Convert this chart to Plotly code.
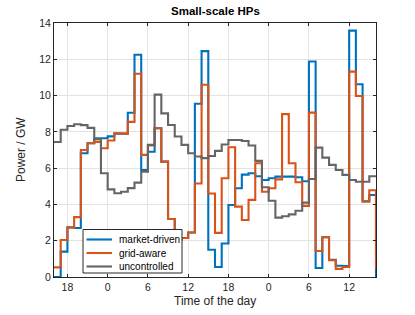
import numpy as np
import plotly.graph_objects as go

# ---- data (hourly values, GW); last value = level at the right edge ----
start_hour = 16
tick_hours = [18, 24, 30, 36, 42, 48, 54, 60]
tick_labels = ["18", "0", "6", "12", "18", "0", "6", "12"]

market_driven = [0.0, 1.4, 2.74, 2.7, 6.82, 7.37, 7.65, 7.65, 7.75, 7.9, 7.9, 9.05,
                 12.25, 5.9, 6.9, 8.2, 6.36, 3.2, 2.05, 2.15, 2.45, 9.55, 12.45, 1.5,
                 0.55, 1.85, 3.97, 4.89, 5.64, 5.72, 5.55, 5.35, 5.44, 5.53, 5.53, 5.53,
                 5.5, 5.28, 11.88, 0.5, 2.19, 0.95, 0.62, 0.6, 13.58, 10.62, 4.17, 4.52,
                 0.0]
grid_aware = [0.53, 2.04, 2.72, 3.3, 7.0, 7.37, 7.45, 7.1, 7.52, 7.92, 7.9, 8.55,
              11.2, 6.73, 7.25, 8.2, 6.36, 3.2, 2.05, 2.15, 2.45, 5.15, 10.6, 4.6,
              2.43, 5.44, 7.15, 3.88, 3.14, 4.25, 6.27, 4.7, 4.89, 5.38, 8.98, 6.27,
              5.22, 3.92, 9.06, 1.43, 2.19, 0.92, 0.45, 0.55, 11.32, 9.98, 4.17, 4.78,
              0.45]
uncontrolled = [7.44, 8.12, 8.32, 8.42, 8.37, 8.22, 7.6, 5.72, 4.83, 4.62, 4.7, 4.9,
                5.2, 5.8, 7.28, 10.05, 9.02, 8.38, 7.74, 7.28, 6.82, 6.64, 6.55, 6.67,
                6.95, 7.3, 7.55, 7.55, 7.5, 7.25, 6.4, 4.95, 4.2, 3.27, 3.35, 3.45,
                3.65, 4.1, 5.4, 7.13, 6.58, 6.18, 5.9, 5.63, 5.35, 5.25, 5.25, 5.55,
                5.55]

series_names = ["market-driven", "grid-aware", "uncontrolled"]
series_colors = ["#0072BD", "#D95319", "#656565"]

hours = start_hour + np.arange(len(market_driven))

fig = go.Figure()
for name, vals, col in zip(series_names, [market_driven, grid_aware, uncontrolled], series_colors):
    fig.add_trace(go.Scatter(
        x=hours, y=vals, name=name, mode="lines", showlegend=False,
        line=dict(color=col, width=2.1, shape="hv"),
    ))

axis_col = "#262626"
grid_col = "#e3e3e3"
font_fam = "Liberation Sans, Arial, sans-serif"

FIG_W, FIG_H = 415, 315
# plot area in pixels: left 54, right 376, top 23, bottom 277
L, R, T, B = 54, 376, 23, 277
W, H = R - L, B - T
def px(xp):
    return (xp - L) / W
def py(yp):
    return (B - yp) / H

shapes = []
annotations = []

# manual legend (MATLAB style box)
shapes.append(dict(type="rect", xref="paper", yref="paper",
                   x0=px(83), x1=px(182), y0=py(273), y1=py(229.5),
                   line=dict(color=axis_col, width=1), fillcolor="white", layer="above"))
row_y = [239.5, 253, 266.5]
for name, col, ry in zip(series_names, series_colors, row_y):
    shapes.append(dict(type="line", xref="paper", yref="paper",
                       x0=px(86.5), x1=px(112), y0=py(ry), y1=py(ry),
                       line=dict(color=col, width=2.1), layer="above"))
    annotations.append(dict(text=name, xref="paper", yref="paper",
                            x=px(116.5), y=py(ry), xanchor="left", yanchor="middle",
                            showarrow=False, font=dict(size=10, color="#000000")))

# title and axis titles
annotations.append(dict(text="<b>Small-scale HPs</b>", xref="paper", yref="paper",
                        x=px(215), y=py(10.5), xanchor="center", yanchor="middle",
                        showarrow=False, font=dict(size=11.5, color="#000000")))
annotations.append(dict(text="Time of the day", xref="paper", yref="paper",
                        x=px(215), y=py(301), xanchor="center", yanchor="middle",
                        showarrow=False, font=dict(size=12, color=axis_col)))
annotations.append(dict(text="Power / GW", xref="paper", yref="paper",
                        x=px(21), y=py(150), xanchor="center", yanchor="middle",
                        textangle=-90, showarrow=False, font=dict(size=12, color=axis_col)))

fig.update_layout(
    width=FIG_W, height=FIG_H,
    margin=dict(l=L, r=FIG_W - R, t=T, b=FIG_H - B, autoexpand=False),
    paper_bgcolor="white", plot_bgcolor="white",
    font=dict(family=font_fam, size=10, color=axis_col),
    showlegend=False,
    shapes=shapes,
    annotations=annotations,
)
fig.update_xaxes(
    range=[start_hour, start_hour + len(market_driven) - 1],
    tickmode="array", tickvals=tick_hours, ticktext=tick_labels,
    ticks="inside", ticklen=3, tickcolor=axis_col,
    showline=True, linecolor=axis_col, linewidth=1, mirror="ticks",
    showgrid=True, gridcolor=grid_col, gridwidth=1, zeroline=False,
    tickfont=dict(size=10.5, color=axis_col), automargin=False,
)
fig.update_yaxes(
    range=[0, 14], tickmode="linear", tick0=0, dtick=2,
    ticks="inside", ticklen=3, tickcolor=axis_col,
    showline=True, linecolor=axis_col, linewidth=1, mirror="ticks",
    showgrid=True, gridcolor=grid_col, gridwidth=1, zeroline=False,
    tickfont=dict(size=10.5, color=axis_col), automargin=False,
)

fig.write_html("out.html",
               config={"displayModeBar": False},
               post_script="document.body.style.margin='0px';document.body.style.overflow='hidden';")
